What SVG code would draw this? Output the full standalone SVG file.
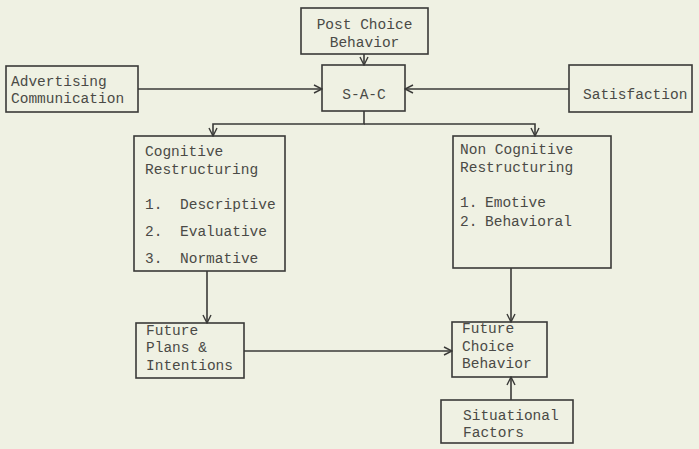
<svg xmlns="http://www.w3.org/2000/svg" width="699" height="449" viewBox="0 0 699 449">
<style>
.box{fill:none;stroke:#3a3a38;stroke-width:1.6}
.t{font-family:"Liberation Mono","DejaVu Sans Mono",monospace;font-size:14.5px;fill:#4a4a46}
.c{stroke:#3a3a38;stroke-width:1.6;fill:none}
.a{marker-end:url(#arr)}
</style>
<defs>
<marker id="arr" viewBox="0 0 10 10" refX="9" refY="5" markerWidth="10" markerHeight="10" markerUnits="userSpaceOnUse" orient="auto">
<path d="M1,1 L9,5 L1,9" fill="none" stroke="#3a3a38" stroke-width="1.4"/>
</marker>
</defs>
<rect width="699" height="449" fill="#eff1e3"/>
<g id="connectors">
<line class="c a" x1="138" y1="89" x2="322" y2="89"/>
<line class="c a" x1="569" y1="89" x2="405" y2="89"/>
<line class="c a" x1="364" y1="54" x2="364" y2="65"/>
<path class="c a" d="M364,111 V124 H213 V136"/>
<path class="c a" d="M364,124 H535 V136"/>
<line class="c a" x1="207" y1="271" x2="207" y2="323"/>
<line class="c a" x1="511" y1="268" x2="511" y2="322"/>
<line class="c a" x1="244" y1="351" x2="452" y2="351"/>
<line class="c a" x1="511" y1="400" x2="511" y2="377"/>
</g>
<g id="post-choice">
<rect class="box" x="301" y="8" width="127" height="46"/>
<text class="t" x="364.5" y="29" text-anchor="middle">Post Choice</text>
<text class="t" x="364.5" y="47" text-anchor="middle">Behavior</text>
</g>
<g id="advertising">
<rect class="box" x="6" y="66" width="132" height="46"/>
<text class="t" x="11" y="86">Advertising</text>
<text class="t" x="11" y="103">Communication</text>
</g>
<g id="sac">
<rect class="box" x="322" y="65" width="83" height="46"/>
<text class="t" x="364" y="99" text-anchor="middle">S-A-C</text>
</g>
<g id="satisfaction">
<rect class="box" x="569" y="65" width="123" height="47"/>
<text class="t" x="583" y="99">Satisfaction</text>
</g>
<g id="cognitive">
<rect class="box" x="134" y="136" width="151" height="135"/>
<text class="t" x="145" y="156">Cognitive</text>
<text class="t" x="145" y="174">Restructuring</text>
<text class="t" x="145" y="209">1.</text><text class="t" x="180" y="209">Descriptive</text>
<text class="t" x="145" y="236">2.</text><text class="t" x="180" y="236">Evaluative</text>
<text class="t" x="145" y="263">3.</text><text class="t" x="180" y="263">Normative</text>
</g>
<g id="non-cognitive">
<rect class="box" x="453" y="136" width="158" height="132"/>
<text class="t" x="460" y="154">Non Cognitive</text>
<text class="t" x="460" y="172">Restructuring</text>
<text class="t" x="460" y="207">1.</text><text class="t" x="485" y="207">Emotive</text>
<text class="t" x="460" y="226">2.</text><text class="t" x="485" y="226">Behavioral</text>
</g>
<g id="future-plans">
<rect class="box" x="136" y="323" width="108" height="55"/>
<text class="t" x="146" y="335">Future</text>
<text class="t" x="146" y="352">Plans &amp;</text>
<text class="t" x="146" y="370">Intentions</text>
</g>
<g id="future-choice">
<rect class="box" x="452" y="322" width="95" height="55"/>
<text class="t" x="462" y="333">Future</text>
<text class="t" x="462" y="351">Choice</text>
<text class="t" x="462" y="368">Behavior</text>
</g>
<g id="situational">
<rect class="box" x="441" y="400" width="132" height="43"/>
<text class="t" x="463" y="420">Situational</text>
<text class="t" x="463" y="437">Factors</text>
</g>
</svg>
